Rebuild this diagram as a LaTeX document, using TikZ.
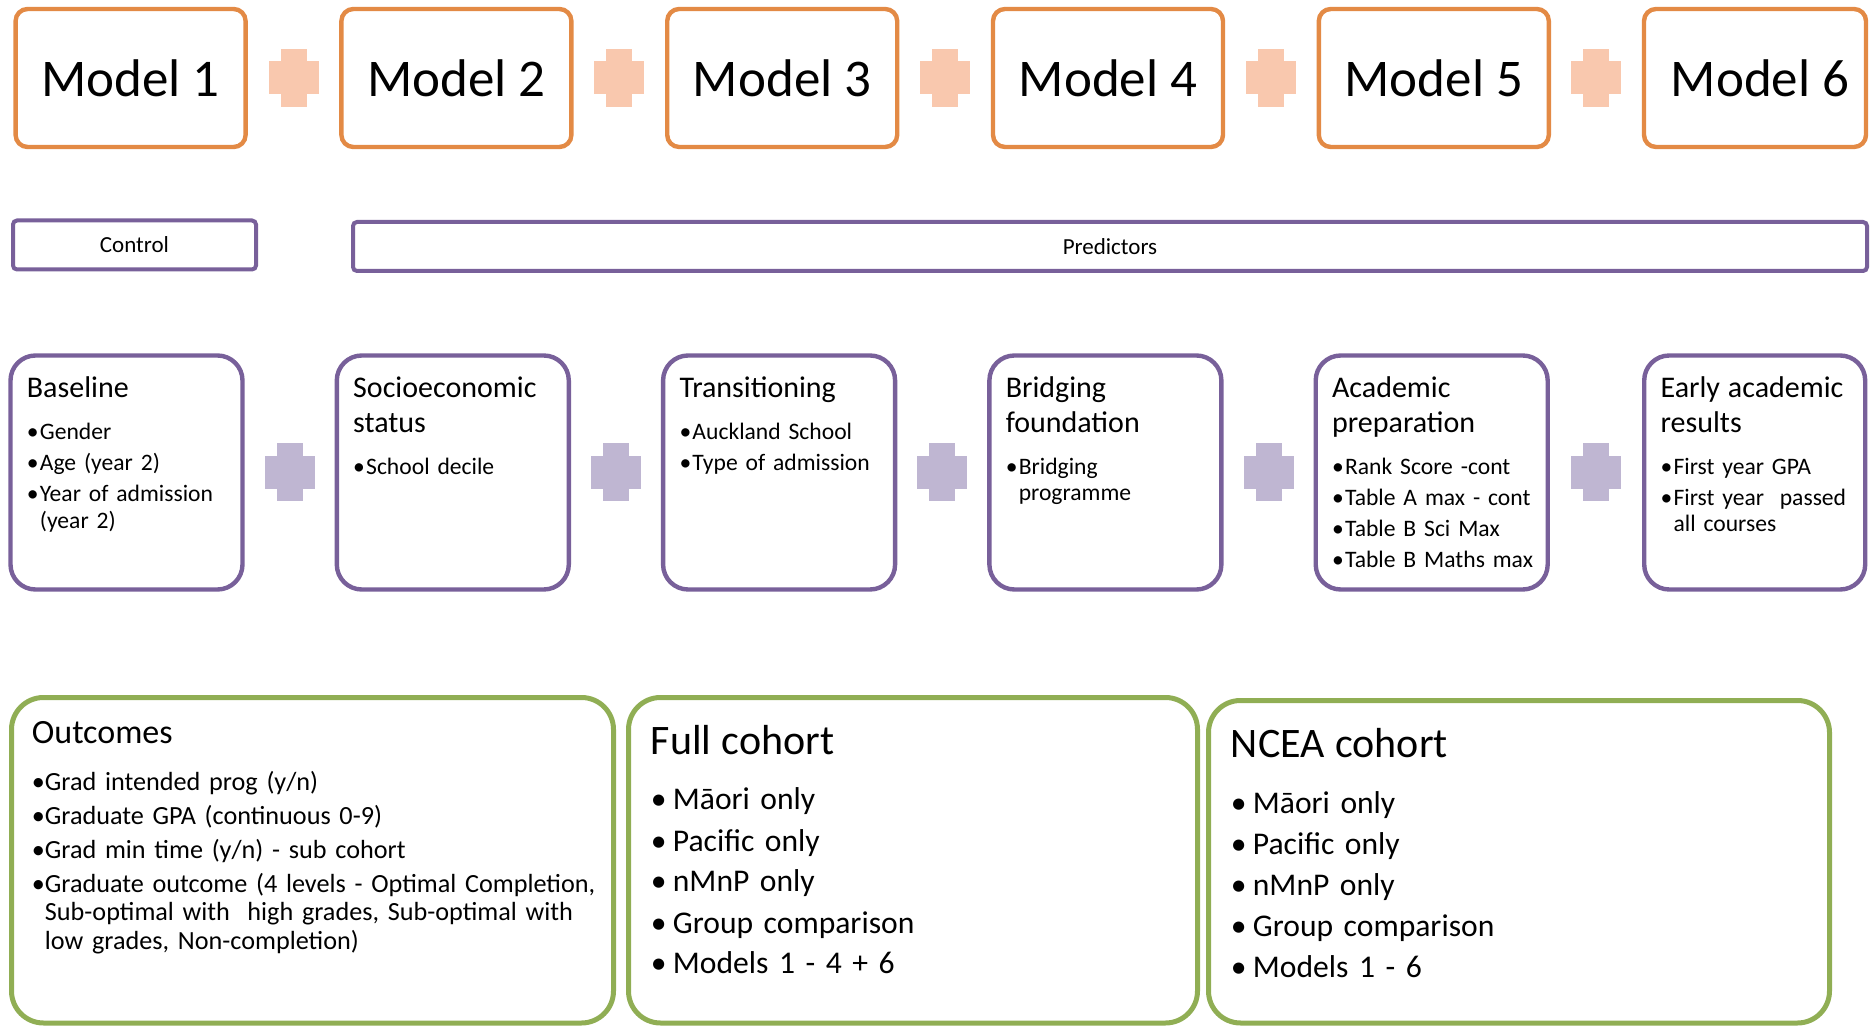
\documentclass[tikz,border=0pt]{standalone}
\usepackage{fontspec}
\setmainfont{Carlito}
\usetikzlibrary{calc}
\definecolor{modelline}{HTML}{E38A45}
\definecolor{plusorange}{HTML}{F9C8AE}
\definecolor{purpleline}{HTML}{78609A}
\definecolor{pluspurple}{HTML}{BFB6D2}
\definecolor{greenline}{HTML}{90AE54}
\newcommand{\bul}[2][6.5pt]{\par\noindent\makebox[#1][l]{\textbullet}\parbox[t]{\dimexpr\linewidth-#1\relax}{\raggedright #2}}
\tikzset{
	modelbox/.style={draw=modelline, line width=2.2pt, rounded corners=6pt, outer sep=0pt, minimum width=115pt, minimum height=69pt, font=\fontsize{26.5}{30}\selectfont},
	groupbox/.style={draw=purpleline, line width=2pt, rounded corners=2pt, outer sep=0pt, minimum height=24.5pt, font=\fontsize{11.5}{13}\selectfont},
	predbox/.style={draw=purpleline, line width=2.2pt, rounded corners=12.5pt, outer sep=0pt, minimum width=116pt, minimum height=117pt},
	resbox/.style={draw=greenline, line width=2.5pt, rounded corners=16pt, outer sep=0pt},
	boxtext/.style={anchor=base west, inner sep=0pt, align=left, text width=#1},
	pics/plus/.style={code={
		\fill[#1] (-25,-16.5) rectangle (25,16.5);
		\fill[#1] (-13,-29) rectangle (13,29);
	}}
}
\begin{document}
\begin{tikzpicture}[x=0.5pt,y=-0.5pt]
		\useasboundingbox (0,0) rectangle (1870,1026);
		\clip (0,0) rectangle (1870,1026);
		\begin{scope}
			\node[modelbox] (m1) at (130.6,78) {Model 1};
			\node[modelbox] (m2) at (456.4,78) {Model 2};
			\node[modelbox] (m3) at (782.2,78) {Model 3};
			\node[modelbox] (m4) at (1108,78) {Model 4};
			\node[modelbox] (m5) at (1433.8,78) {Model 5};
			\node[modelbox, minimum width=111pt] (m6) at (1755,78) {\hspace*{5pt}Model 6};
			\pic at ($(m1.east)!0.5!(m2.west)$) {plus=plusorange};
			\pic at ($(m2.east)!0.5!(m3.west)$) {plus=plusorange};
			\pic at ($(m3.east)!0.5!(m4.west)$) {plus=plusorange};
			\pic at ($(m4.east)!0.5!(m5.west)$) {plus=plusorange};
			\pic at ($(m5.east)!0.5!(m6.west)$) {plus=plusorange};
		\end{scope}
		\begin{scope}
			\node[groupbox, minimum width=121.5pt] (control) at (134.5,245) {Control};
			\node[groupbox, minimum width=757pt] (predictors) at (1110,246.5) {Predictors};
		\end{scope}
		\begin{scope}[font=\fontsize{11.8}{13.2}\selectfont]
			\node[predbox] (b1) at (126.5,472.5) {};
			\node[predbox] (b2) at (452.8,472.5) {};
			\node[predbox] (b3) at (779.1,472.5) {};
			\node[predbox] (b4) at (1105.4,472.5) {};
			\node[predbox] (b5) at (1431.7,472.5) {};
			\node[predbox, minimum width=110.5pt] (b6) at (1754.7,472.5) {};
			\pic at ($(b1.east)!0.5!(b2.west)$) {plus=pluspurple};
			\pic at ($(b2.east)!0.5!(b3.west)$) {plus=pluspurple};
			\pic at ($(b3.east)!0.5!(b4.west)$) {plus=pluspurple};
			\pic at ($(b4.east)!0.5!(b5.west)$) {plus=pluspurple};
			\pic at ($(b5.east)!0.5!(b6.west)$) {plus=pluspurple};
			\node[boxtext=110pt] (t1) at ([shift={(16,42.5)}]b1.north west) {\setlength{\parskip}{2.3pt}{\fontsize{15}{17.3}\selectfont Baseline\par}\vspace{5.5pt}\bul{Gender}\bul{Age (year 2)}\bul{Year of admission\\(year 2)}};
			\node[boxtext=110pt] (t2) at ([shift={(16,42.5)}]b2.north west) {\setlength{\parskip}{2.3pt}{\fontsize{15}{17.3}\selectfont Socioeconomic\\status\par}\vspace{5.5pt}\bul{School decile}};
			\node[boxtext=110pt] (t3) at ([shift={(16,42.5)}]b3.north west) {\setlength{\parskip}{2.3pt}{\fontsize{15}{17.3}\selectfont Transitioning\par}\vspace{5.5pt}\bul{Auckland School}\bul{Type of admission}};
			\node[boxtext=110pt] (t4) at ([shift={(16,42.5)}]b4.north west) {\setlength{\parskip}{2.3pt}{\fontsize{15}{17.3}\selectfont Bridging\\foundation\par}\vspace{5.5pt}\bul{Bridging\\programme}};
			\node[boxtext=110pt] (t5) at ([shift={(16,42.5)}]b5.north west) {\setlength{\parskip}{2.3pt}{\fontsize{15}{17.3}\selectfont Academic\\preparation\par}\vspace{5.5pt}\bul{Rank Score -cont}\bul{Table A max - cont}\bul{Table B Sci Max}\bul{Table B Maths max}};
			\node[boxtext=105pt] (t6) at ([shift={(16,42.5)}]b6.north west) {\setlength{\parskip}{2.3pt}{\fontsize{15}{17.3}\selectfont Early academic\\results\par}\vspace{5.5pt}\bul{First year GPA}\bul{First year\ \ passed\\all courses}};
		\end{scope}
		\begin{scope}
			\node[resbox, minimum width=301pt, minimum height=162.75pt] (outcomes) at (312.5,860.25) {};
			\node[resbox, minimum width=284.5pt, minimum height=162.75pt] (full) at (913,860.25) {};
			\node[resbox, minimum width=310.5pt, minimum height=161.25pt] (ncea) at (1519,861.75) {};
			\node[boxtext=290pt, font=\fontsize{13.1}{14.3}\selectfont] (o1) at ([shift={(20,45.5)}]outcomes.north west) {\setlength{\parskip}{2.7pt}{\fontsize{17}{20}\selectfont Outcomes\par}\vspace{6.5pt}\bul{Grad intended prog (y/n)}\bul{Graduate GPA (continuous 0-9)}\bul{Grad min time (y/n) - sub cohort}\bul{Graduate outcome (4 levels - Optimal Completion,\\Sub-optimal with\ \ high grades, Sub-optimal with\\low grades, Non-completion)}};
			\node[boxtext=270pt, font=\fontsize{15.8}{20.5}\selectfont] (f1) at ([shift={(22,56.5)}]full.north west) {{\fontsize{21}{25}\selectfont Full cohort\par}\vspace{7.5pt}\bul[11pt]{Māori only}\bul[11pt]{Pacific only}\bul[11pt]{nMnP only}\bul[11pt]{Group comparison}\bul[11pt]{Models 1 - 4 + 6}};
			\node[boxtext=270pt, font=\fontsize{15.8}{20.5}\selectfont] (n1) at ([shift={(22,56.5)}]ncea.north west) {{\fontsize{21}{25}\selectfont NCEA cohort\par}\vspace{7.5pt}\bul[11pt]{Māori only}\bul[11pt]{Pacific only}\bul[11pt]{nMnP only}\bul[11pt]{Group comparison}\bul[11pt]{Models 1 - 6}};
		\end{scope}
	\end{tikzpicture}
\end{document}
